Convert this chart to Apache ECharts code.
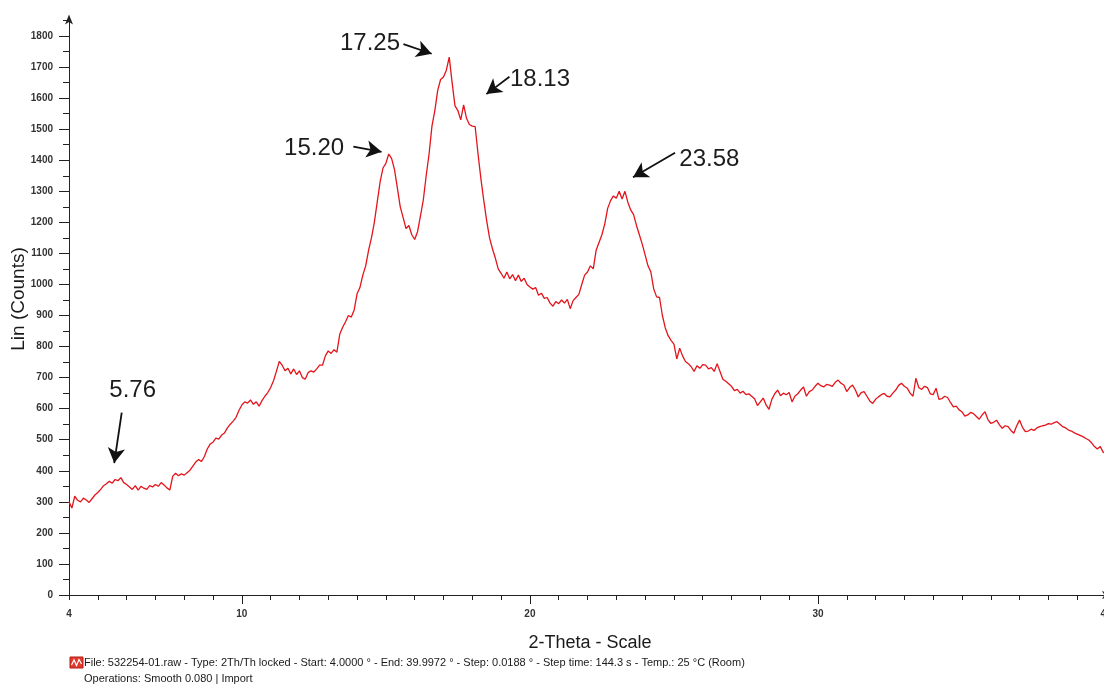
<!DOCTYPE html>
<html>
<head>
<meta charset="utf-8">
<script src="https://cdn.jsdelivr.net/npm/echarts@6/dist/echarts.min.js"></script>
<style>
html,body{margin:0;padding:0;background:#fff;}
#chart{width:1104px;height:686px;}
</style>
</head>
<body>
<div id="chart"></div>
<script>
// ---- data ----
const xStart = 4.0;
const xStep = 0.1;
// Lin (Counts), read every 0.1 degree from 4.0 to 40.0
const counts = [
  300,280,318,305,300,312,306,298,310,322,      // 4
  330,340,352,358,366,360,372,368,378,362,      // 5
  356,348,340,352,338,350,344,340,352,348,      // 6
  356,350,362,354,345,338,382,392,384,390,      // 7
  386,394,402,415,428,436,430,446,470,486,      // 8
  492,505,502,515,522,538,550,560,572,594,      // 9
  612,622,618,628,614,622,608,626,640,652,      // 10
  668,690,720,752,740,722,730,712,728,710,      // 11
  722,700,695,716,722,718,728,740,740,770,      // 12
  786,778,790,782,840,862,880,900,895,918,      // 13
  970,990,1030,1060,1110,1150,1200,1265,1330,1375, // 14
  1390,1420,1405,1370,1310,1250,1215,1180,1190,1160, // 15
  1145,1170,1220,1272,1350,1420,1510,1560,1625,1660, // 16
  1668,1690,1732,1650,1575,1560,1530,1578,1535,1515, // 17
  1510,1508,1420,1340,1270,1205,1150,1115,1085,1050, // 18
  1036,1020,1040,1018,1032,1012,1030,1010,1020,1000, // 19
  992,985,990,965,972,955,958,940,930,945,      // 20
  938,950,940,952,922,948,958,968,1000,1030,    // 21
  1040,1060,1050,1110,1135,1160,1195,1245,1270,1285, // 22
  1278,1300,1275,1300,1265,1240,1225,1190,1160,1130, // 23
  1095,1060,1040,985,960,958,900,860,835,820,   // 24
  808,760,795,770,752,745,735,720,738,730,      // 25
  742,740,728,732,720,745,720,695,688,680,      // 26
  672,658,662,650,656,645,648,640,632,610,      // 27
  622,634,612,598,630,648,660,642,650,645,      // 28
  652,622,640,648,660,670,640,655,660,672,      // 29
  682,674,670,678,676,672,685,692,682,676,      // 30
  655,668,676,660,638,652,655,640,625,617,      // 31
  630,638,645,649,640,638,650,660,675,682,      // 32
  672,666,650,640,698,668,662,672,668,648,      // 33
  645,666,630,632,640,636,620,606,608,596,      // 34
  590,576,580,588,584,575,566,580,590,565,      // 35
  553,556,563,548,537,545,542,530,521,545,      // 36
  563,540,526,528,534,530,538,542,545,547,      // 37
  552,550,555,558,550,542,538,531,528,522,      // 38
  518,514,510,504,499,490,478,470,478,460,      // 39
  455                                           // 40
];
const xTickLabels = [4, 10, 20, 30, 40];
const xMajorTicks = [10, 20, 30, 40];
const yTickLabels = [0,100,200,300,400,500,600,700,800,900,1000,1100,1200,1300,1400,1500,1600,1700,1800];

// peak annotations: label text, label position, arrow start, arrow end (data units)
const peakLabels = ['5.76', '15.20', '17.25', '18.13', '23.58'];
const peakTextPos = [[6.21, 660], [12.51, 1439], [14.45, 1775], [20.35, 1660], [26.23, 1404]];
const arrowFrom = [[5.83, 587], [13.87, 1444], [15.61, 1774], [19.29, 1669], [25.04, 1424]];
const arrowTo   = [[5.57, 425], [14.85, 1427], [16.59, 1743], [18.49, 1613], [23.58, 1345]];

const footer1 = 'File: 532254-01.raw - Type: 2Th/Th locked - Start: 4.0000 \u00b0 - End: 39.9972 \u00b0 - Step: 0.0188 \u00b0 - Step time: 144.3 s - Temp.: 25 \u00b0C (Room)';
const footer2 = 'Operations: Smooth 0.080 | Import';

// ---- build ----
const seriesData = counts.map((v, i) => [+(xStart + i * xStep).toFixed(2), v]);
const chart = echarts.init(document.getElementById('chart'), null, {renderer: 'canvas'});
const axisColor = '#222';
const font = 'Arial, "Liberation Sans", Helvetica, sans-serif';
const plain = v => String(v);

const option = {
  animation: false,
  backgroundColor: '#ffffff',
  grid: {left: 69, top: 20.5, width: 1037, bottom: 91, containLabel: false, outerBoundsMode: 'none'},
  xAxis: [
    {
      type: 'value', min: 4, max: 40, interval: 1, position: 'bottom',
      axisLine: {show: true, onZero: false, lineStyle: {color: axisColor, width: 1},
                 symbol: ['none', 'arrow'], symbolSize: [6, 10], symbolOffset: [0, 6]},
      axisTick: {show: true, length: 5, lineStyle: {color: axisColor}},
      axisLabel: {show: false},
      splitLine: {show: false}
    },
    {
      type: 'value', min: 4, max: 40, position: 'bottom',
      axisLine: {show: false, onZero: false},
      axisTick: {show: true, length: 9, customValues: xMajorTicks, lineStyle: {color: axisColor}},
      axisLabel: {show: true, customValues: xTickLabels, formatter: plain, fontSize: 10, fontWeight: 'bold',
                  color: '#333', margin: 14, fontFamily: font},
      splitLine: {show: false}
    }
  ],
  yAxis: [
    {
      type: 'value', min: 0, max: 1850, interval: 50, position: 'left',
      axisLine: {show: true, onZero: false, lineStyle: {color: axisColor, width: 1},
                 symbol: ['none', 'arrow'], symbolSize: [6, 10], symbolOffset: [0, 6]},
      axisTick: {show: true, length: 6, lineStyle: {color: axisColor}},
      axisLabel: {show: false},
      splitLine: {show: false}
    },
    {
      type: 'value', min: 0, max: 1850, position: 'left', offset: 0,
      axisLine: {show: false, onZero: false},
      axisTick: {show: true, length: 10, customValues: yTickLabels, lineStyle: {color: axisColor}},
      axisLabel: {show: true, customValues: yTickLabels, formatter: plain, fontSize: 10, fontWeight: 'bold',
                  color: '#333', margin: 16, fontFamily: font},
      splitLine: {show: false}
    }
  ],
  series: [
    {
      type: 'line',
      xAxisIndex: 0, yAxisIndex: 0,
      data: seriesData,
      showSymbol: false,
      symbol: 'none',
      sampling: null,
      lineStyle: {color: '#e4141b', width: 1.3},
      markLine: {
        silent: true,
        symbol: ['none', 'arrow'],
        symbolSize: [13, 15],
        label: {show: false},
        lineStyle: {color: '#111', width: 1.8, type: 'solid'},
        data: arrowFrom.map((p, i) => [{coord: p}, {coord: arrowTo[i]}])
      },
      markPoint: {
        silent: true,
        symbol: 'circle',
        symbolSize: 0,
        data: peakLabels.map((t, i) => ({
          coord: peakTextPos[i],
          label: {show: true, position: 'inside', formatter: t, fontSize: 24,
                  color: '#1c1c1c', fontFamily: font}
        }))
      }
    }
  ],
  graphic: [
    {type: 'text', x: 19, y: 299, rotation: Math.PI / 2,
     style: {text: 'Lin (Counts)', font: '19px ' + font, fill: '#1a1a1a', textAlign: 'center', textVerticalAlign: 'middle'}},
    {type: 'text', x: 590, y: 643,
     style: {text: '2-Theta - Scale', font: '18px ' + font, fill: '#1a1a1a', textAlign: 'center', textVerticalAlign: 'middle'}},
    {type: 'group', x: 70, y: 657, children: [
      {type: 'rect', shape: {x: 0, y: 0, width: 13, height: 11}, style: {fill: '#e23a2e', stroke: '#b51d14', lineWidth: 1}},
      {type: 'polyline', shape: {points: [[1.5, 8], [4, 3], [6.5, 8.5], [9, 2.5], [11.5, 7]]}, style: {stroke: '#fff', lineWidth: 1.2, fill: null}}
    ]},
    {type: 'text', x: 84, y: 663,
     style: {text: footer1, font: '11px ' + font, fill: '#1a1a1a', textAlign: 'left', textVerticalAlign: 'middle'}},
    {type: 'text', x: 84, y: 679,
     style: {text: footer2, font: '11px ' + font, fill: '#1a1a1a', textAlign: 'left', textVerticalAlign: 'middle'}}
  ]
};
chart.setOption(option);
</script>
</body>
</html>
